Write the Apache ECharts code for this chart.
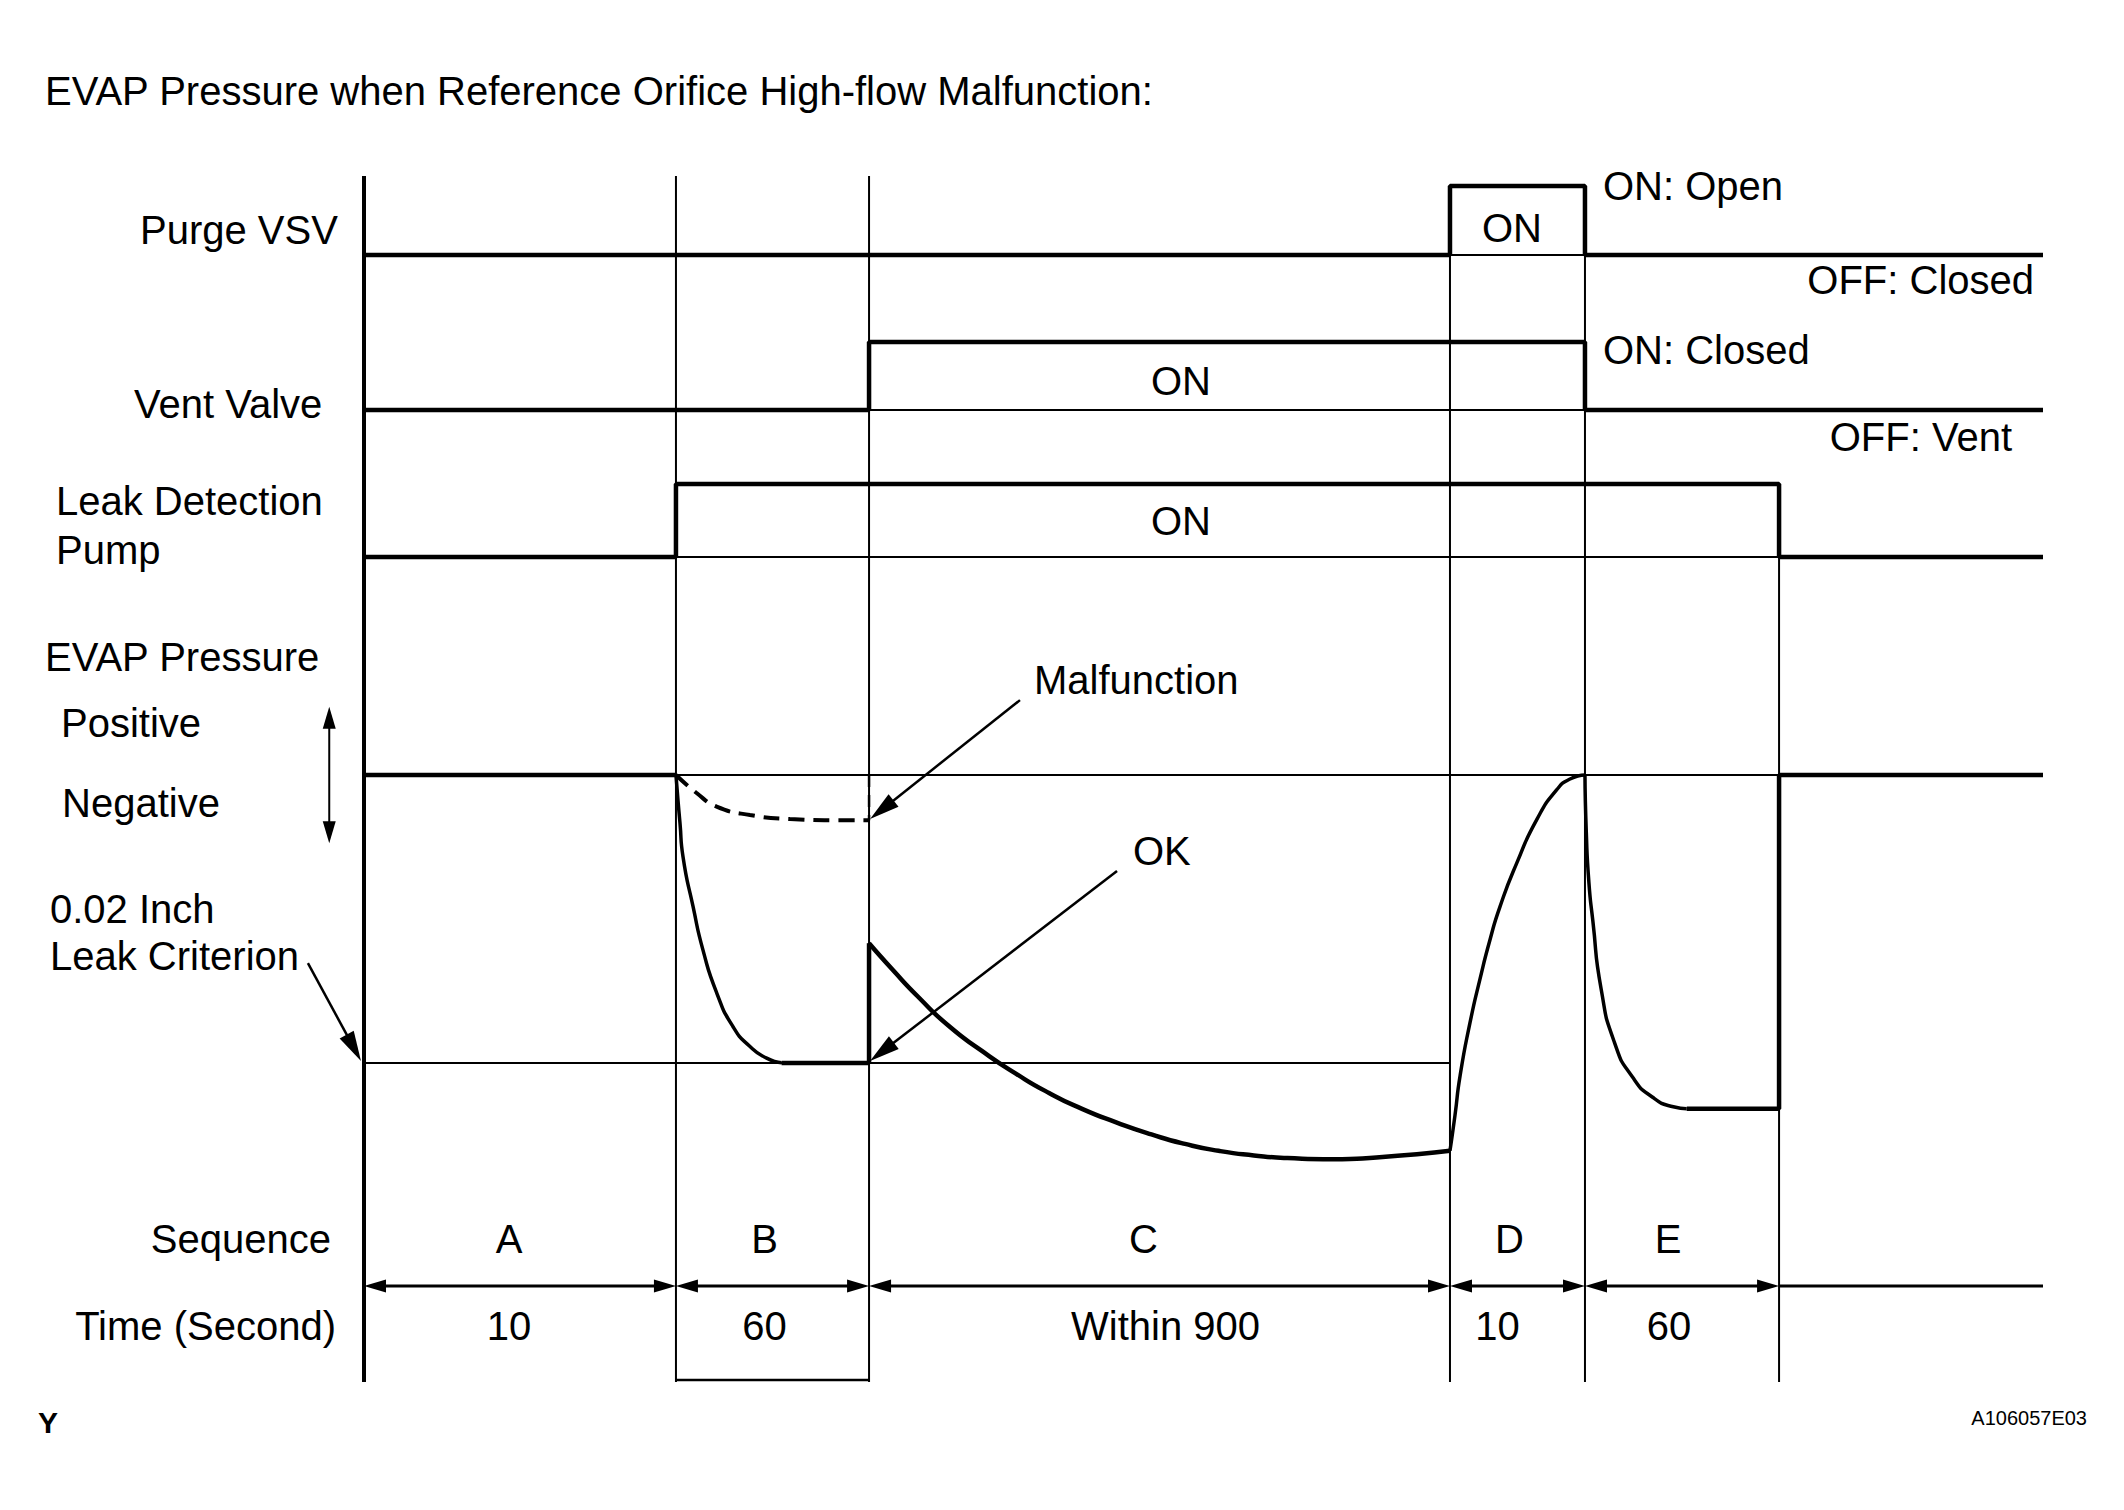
<!DOCTYPE html>
<html><head><meta charset="utf-8">
<script src="https://cdn.jsdelivr.net/npm/echarts@6/dist/echarts.min.js"></script>
<style>html,body{margin:0;padding:0;background:#fff}#c{width:2124px;height:1510px}</style>
</head><body><div id="c"></div>
<script>
// ---------------- data (schematic time axis 0..100, pressure: 0 = atmospheric, -1 = 0.02 inch criterion) ----------------
const phaseBoundaries = [0, 18.58, 30.08, 64.68, 72.72, 84.28, 100];
const sequenceNames = ['A', 'B', 'C', 'D', 'E'];
const sequenceTimes = ['10', '60', 'Within 900', '10', '60'];

const purgeVSV  = [[0, 0], [64.68, 1], [72.72, 0], [100, 0]];
const ventValve = [[0, 0], [30.08, 1], [72.72, 0], [100, 0]];
const leakPump  = [[0, 0], [18.58, 1], [84.28, 0], [100, 0]];

const leakCriterion = -1;
const pressureIdle = [[0, 0], [18.58, 0]];
const pressureRefOK = [[18.58, 0], [18.70, -0.087], [18.82, -0.167], [19.00, -0.284], [19.60, -0.457],
  [20.19, -0.608], [21.01, -0.757], [21.98, -0.874], [22.99, -0.943], [23.98, -0.983], [24.87, -0.999]];
const pressureRefHold = [[24.87, -1], [30.08, -1]];
const pressureRefMalfunction = [[18.58, 0], [19.81, -0.0625], [21.0, -0.110], [22.99, -0.139], [25.37, -0.153],
  [28.15, -0.157], [30.08, -0.157]];
const pressureMalfunctionDrop = [[30.08, 0], [30.08, -0.157]];
const pressureRefJump = [[30.08, -1], [30.08, -0.584]];
const pressureLeakCheck = [[30.08, -0.584], [31.5, -0.677], [33.0, -0.77], [34.8, -0.87], [36.8, -0.958],
  [38.8, -1.036], [40.8, -1.104], [42.8, -1.16], [44.8, -1.206], [46.9, -1.248], [48.9, -1.281], [50.9, -1.305],
  [53.0, -1.321], [55.0, -1.33], [57.7, -1.334], [60.3, -1.328], [64.68, -1.305]];
const pressurePurge = [[64.68, -1.305], [64.98, -1.181], [65.28, -1.045], [65.87, -0.861], [66.47, -0.708],
  [67.06, -0.573], [67.66, -0.457], [68.65, -0.307], [69.84, -0.156], [71.03, -0.052], [71.83, -0.014], [72.72, 0]];
const pressureRecheck = [[72.72, 0], [72.80, -0.2], [72.95, -0.37], [73.19, -0.507], [73.68, -0.742], [74.49, -0.931],
  [75.54, -1.048], [76.75, -1.119], [77.98, -1.152], [78.78, -1.159]];
const pressureEnd = [[78.78, -1.159], [84.28, -1.159], [84.28, 0], [100, 0]];

// annotation arrows: [fromX, fromP, toX, toP, heads]
const annotationArrows = [[39.07, 0.26, 30.14, -0.153, 1], [44.85, -0.333, 30.14, -0.993, 1], [-3.34, -0.653, -0.18, -0.993, 1]];
const signArrow = [[-2.07, 0.237, -2.07, -0.237, 2]];

// ---------------- layout ----------------
const FONT = '"Liberation Sans", Arial, Helvetica, sans-serif';
const X0 = 364, X1 = 2043, TOP = 176, BOT = 1382;
const rows = { purge: [186, 255], vent: [342, 410], leak: [484, 557], press: [631, 1207], frame: [TOP, BOT] };
const sepTops = [TOP, TOP, TOP, rows.purge[0], rows.purge[0], rows.leak[0]];
const letterShift = [-11, -8, -16, -8, -14];
const timeShift = [-11, -8, 6, -20, -13];
const gridOf = r => ({ left: X0, width: X1 - X0, top: r[0], height: r[1] - r[0] });

const chart = echarts.init(document.getElementById('c'), null, { renderer: 'svg', width: 2124, height: 1510 });

function lineS(data, g, w, extra) {
  return Object.assign({ type: 'line', data: data, xAxisIndex: g, yAxisIndex: g, symbol: 'none', clip: false,
    lineStyle: { color: '#000', width: w }, animation: false, silent: true }, extra || {});
}

function arrowRender(len, half, shaft) {
  return function (params, api) {
    const a = api.coord([api.value(0), api.value(1)]);
    const b = api.coord([api.value(2), api.value(3)]);
    const both = api.value(4) === 2;
    const dx = b[0] - a[0], dy = b[1] - a[1], d = Math.hypot(dx, dy), ux = dx / d, uy = dy / d;
    const head = (t, sx, sy) => ({ type: 'polygon', shape: { points: [[t[0], t[1]],
      [t[0] - sx * len - sy * half, t[1] - sy * len + sx * half],
      [t[0] - sx * len + sy * half, t[1] - sy * len - sx * half]] }, style: { fill: '#000' } });
    const s = both ? [a[0] + ux * len * 0.8, a[1] + uy * len * 0.8] : a;
    const e = [b[0] - ux * len * 0.8, b[1] - uy * len * 0.8];
    const children = [{ type: 'line', shape: { x1: s[0], y1: s[1], x2: e[0], y2: e[1] }, style: { stroke: '#000', lineWidth: shaft } },
      head(b, ux, uy)];
    if (both) children.push(head(a, -ux, -uy));
    return { type: 'group', children: children };
  };
}

const seqArrows = sequenceNames.map((n, i) => [phaseBoundaries[i], 1286 - TOP, phaseBoundaries[i + 1], 1286 - TOP, 2]);
const seqLabels = [];
sequenceNames.forEach((n, i) => {
  const mid = (phaseBoundaries[i] + phaseBoundaries[i + 1]) / 2;
  seqLabels.push([mid, 1239 - TOP, n, letterShift[i]]);
  seqLabels.push([mid, 1326 - TOP, sequenceTimes[i], timeShift[i]]);
});

const T = (text, x, y, align, size, weight) => ({ type: 'text', x: x, y: y, silent: true,
  style: { text: text, font: (weight || 'normal') + ' ' + (size || 40) + 'px ' + FONT, fill: '#000',
    align: align || 'left', textAlign: align || 'left', verticalAlign: 'middle', textVerticalAlign: 'middle' } });

const SM = { smooth: 0.6 };

const option = {
  backgroundColor: '#fff',
  animation: false,
  grid: [gridOf(rows.purge), gridOf(rows.vent), gridOf(rows.leak), gridOf(rows.press), gridOf(rows.frame)],
  xAxis: [0, 1, 2, 3, 4].map(i => ({ type: 'value', gridIndex: i, min: 0, max: 100, show: false })),
  yAxis: [
    { type: 'value', gridIndex: 0, min: 0, max: 1, show: false },
    { type: 'value', gridIndex: 1, min: 0, max: 1, show: false },
    { type: 'value', gridIndex: 2, min: 0, max: 1, show: false },
    { type: 'value', gridIndex: 3, min: -1.5, max: 0.5, show: false },
    { type: 'value', gridIndex: 4, min: 0, max: BOT - TOP, inverse: true, show: false }
  ],
  series: [
    // separators
    { type: 'custom', xAxisIndex: 4, yAxisIndex: 4, clip: false, silent: true,
      data: phaseBoundaries.slice(0, 6).map((b, i) => [b, sepTops[i] - TOP]),
      renderItem: (params, api) => {
        const p1 = api.coord([api.value(0), api.value(1)]);
        const p2 = api.coord([api.value(0), BOT - TOP]);
        return { type: 'line', shape: { x1: p1[0], y1: p1[1], x2: p2[0], y2: p2[1] },
          style: { stroke: '#000', lineWidth: params.dataIndex === 0 ? 4 : 2 } };
      } },
    // thin baselines
    lineS([[phaseBoundaries[3], 0], [phaseBoundaries[4], 0]], 0, 2),
    lineS([[phaseBoundaries[2], 0], [phaseBoundaries[4], 0]], 1, 2),
    lineS([[phaseBoundaries[1], 0], [phaseBoundaries[5], 0]], 2, 2),
    // signals
    lineS(purgeVSV, 0, 4.5, { step: 'end' }),
    lineS(ventValve, 1, 4.5, { step: 'end' }),
    lineS(leakPump, 2, 4.5, { step: 'end' }),
    // pressure reference lines
    lineS([[-12.5, 0], [100, 0]], 3, 2),
    lineS([[0, leakCriterion], [phaseBoundaries[3], leakCriterion]], 3, 2),
    // pressure traces
    lineS(pressureIdle, 3, 4.5),
    lineS(pressureRefOK, 3, 3.5, SM),
    lineS(pressureRefHold, 3, 4.5),
    lineS(pressureRefMalfunction, 3, 4, { smooth: 0.5, lineStyle: { color: '#000', width: 4, type: [16, 9] } }),
    lineS(pressureMalfunctionDrop, 3, 2.5, { lineStyle: { color: '#000', width: 2.5, type: [12, 8] } }),
    lineS(pressureRefJump, 3, 4.5),
    lineS(pressureLeakCheck, 3, 4.5, SM),
    lineS(pressurePurge, 3, 3.5, SM),
    lineS(pressureRecheck, 3, 3.5, SM),
    lineS(pressureEnd, 3, 4.5),
    // annotation arrows
    { type: 'custom', xAxisIndex: 3, yAxisIndex: 3, clip: false, silent: true, data: annotationArrows, renderItem: arrowRender(30, 8, 2.5) },
    { type: 'custom', xAxisIndex: 3, yAxisIndex: 3, clip: false, silent: true, data: signArrow, renderItem: arrowRender(22, 6.5, 2) },
    // sequence timeline
    { type: 'custom', xAxisIndex: 4, yAxisIndex: 4, clip: false, silent: true, data: seqArrows, renderItem: arrowRender(22, 6.5, 3) },
    lineS([[phaseBoundaries[5], 1286 - TOP], [100, 1286 - TOP]], 4, 3),
    lineS([[phaseBoundaries[1], 1380 - TOP], [phaseBoundaries[2], 1380 - TOP]], 4, 2.5),
    { type: 'custom', xAxisIndex: 4, yAxisIndex: 4, clip: false, silent: true, data: seqLabels,
      renderItem: (params, api) => {
        const p = api.coord([api.value(0), api.value(1)]);
        const it = seqLabels[params.dataIndex];
        return { type: 'text', x: p[0] + it[3], y: p[1], style: { text: it[2], font: '40px ' + FONT,
          fill: '#000', align: 'center', textAlign: 'center', verticalAlign: 'middle', textVerticalAlign: 'middle' } };
      } }
  ],
  graphic: { elements: [
    T('EVAP Pressure when Reference Orifice High-flow Malfunction:', 45, 91),
    T('Purge VSV', 140, 230),
    T('Vent Valve', 134, 404),
    T('Leak Detection', 56, 501),
    T('Pump', 56, 550),
    T('EVAP Pressure', 45, 657),
    T('Positive', 61, 723),
    T('Negative', 62, 803),
    T('0.02 Inch', 50, 909),
    T('Leak Criterion', 50, 956),
    T('Sequence', 331, 1239, 'right'),
    T('Time (Second)', 336, 1326, 'right'),
    T('ON: Open', 1603, 186),
    T('OFF: Closed', 2034, 280, 'right'),
    T('ON: Closed', 1603, 350),
    T('OFF: Vent', 2012, 437, 'right'),
    T('ON', 1512, 228, 'center'),
    T('ON', 1181, 381, 'center'),
    T('ON', 1181, 521, 'center'),
    T('Malfunction', 1034, 680),
    T('OK', 1133, 851),
    T('Y', 38, 1422, 'left', 30, 'bold'),
    T('A106057E03', 2087, 1418, 'right', 20)
  ] }
};
chart.setOption(option);
</script></body></html>
